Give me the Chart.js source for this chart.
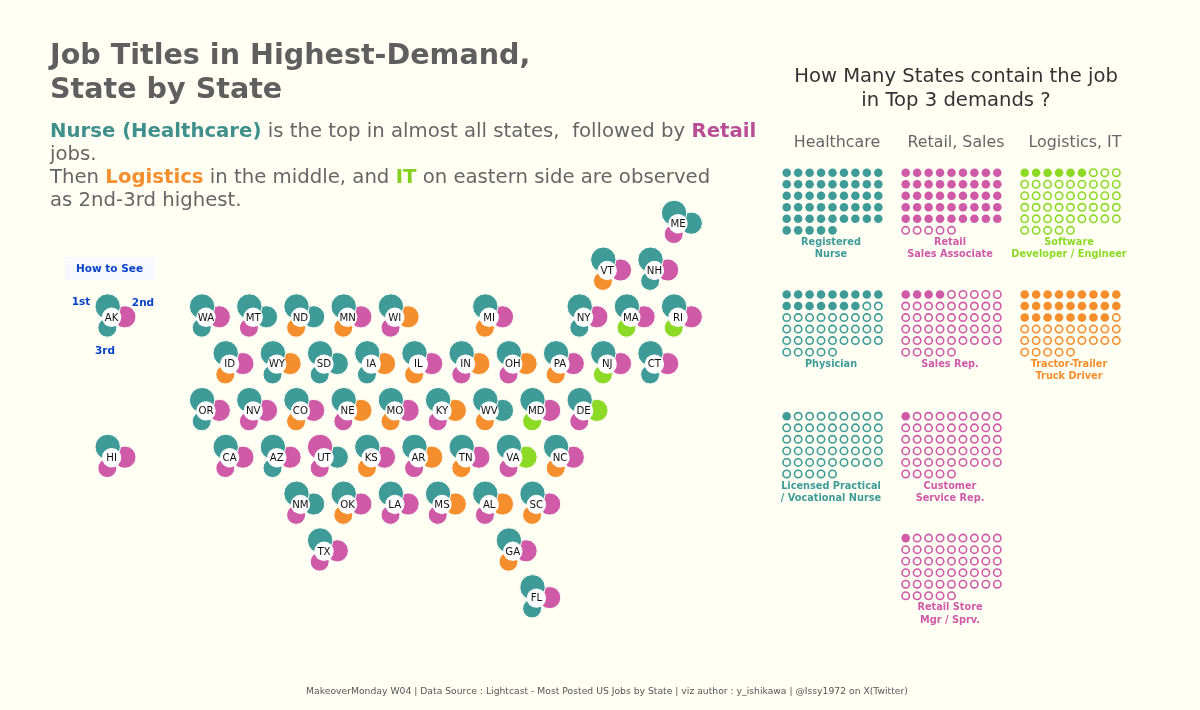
<!DOCTYPE html>
<html>
<head>
<meta charset="utf-8">
<title>Job Titles in Highest-Demand, State by State</title>
<script src="https://cdn.jsdelivr.net/npm/chart.js@4"></script>
<style>
  html, body { margin: 0; padding: 0; background: #fffff4; }
  #page { position: relative; width: 1200px; height: 710px; overflow: hidden; font-family: "DejaVu Sans", sans-serif; }
  canvas { position: absolute; left: 0; top: 0; }
  .t { position: absolute; white-space: pre; line-height: 1; }
  .c { transform: translate(-50%, -50%); text-align: center; }
  .l { transform: translateY(-50%); }
  .title { font-size: 28.6px; font-weight: bold; color: #5f5f5f; }
  .sub { font-size: 19.7px; color: #666; }
  .sub b.h { color: #3f8f8c; } .sub b.r { color: #b84f96; } .sub b.o { color: #f58e2c; } .sub b.g { color: #84d020; }
  .head { font-size: 19.6px; color: #333; }
  .col { font-size: 15.85px; color: #666; }
  .dot { font-size: 9.75px; font-weight: bold; }
  .blue { font-size: 10.5px; font-weight: bold; color: #0b43c9; }
  .foot { font-size: 9.24px; color: #555; }
  #howto { position: absolute; left: 65px; top: 257px; width: 90px; height: 23px; background: #f8f8ff; }
</style>
</head>
<body>
<div id="page">
  <div id="howto"></div>
  <canvas id="chart" width="1200" height="710"></canvas>
</div>
<script>
// tile grid map, half columns and rows, one flower per state
const states = ["ME","VT","NH","AK","WA","MT","ND","MN","WI","MI","NY","MA","RI",
  "ID","WY","SD","IA","IL","IN","OH","PA","NJ","CT",
  "OR","NV","CO","NE","MO","KY","WV","MD","DE",
  "HI","CA","AZ","UT","KS","AR","TN","VA","NC",
  "NM","OK","LA","MS","AL","SC","TX","GA","FL"];
const stateCol = [20,17,19,-4,0,2,4,6,8,12,16,18,20,
  1,3,5,7,9,11,13,15,17,19,
  0,2,4,6,8,10,12,14,16,
  -4,1,3,5,7,9,11,13,15,
  4,6,8,10,12,14,5,13,14];
const stateRow = [-2,-1,-1,0,0,0,0,0,0,0,0,0,0,
  1,1,1,1,1,1,1,1,1,1,
  2,2,2,2,2,2,2,2,2,
  3,3,3,3,3,3,3,3,3,
  4,4,4,4,4,4,5,5,6];
// job group per rank: H healthcare, R retail, L logistics, I IT
const first = ["H","H","H","H","H","H","H","H","H","H","H","H","H",
  "H","H","H","H","H","H","H","H","H","H",
  "H","H","H","H","H","H","H","H","H",
  "H","H","H","R","H","H","H","H","H",
  "H","H","H","H","H","H","H","H","H"];
const second = ["H","R","R","R","R","H","H","R","L","R","R","R","R",
  "R","L","H","L","R","L","L","R","R","R",
  "R","R","R","L","R","L","H","R","I",
  "R","R","R","H","R","L","R","I","R",
  "H","R","R","L","L","R","R","R","R"];
const third = ["R","L","H","H","H","R","L","L","R","L","H","I","I",
  "L","H","H","H","L","R","R","L","I","H",
  "H","R","L","R","L","R","L","I","R",
  "R","R","H","R","L","R","L","R","L",
  "R","L","R","R","R","L","R","L","H"];

const groupColor = { H: "#3f9b98", R: "#cf5aa8", L: "#f58e2c", I: "#8cd926" };

// unit charts, 50 states each
const jobNames = [["Registered","Nurse"],["Retail","Sales Associate"],["Software","Developer / Engineer"],
  ["Physician"],["Sales Rep."],["Tractor-Trailer","Truck Driver"],
  ["Licensed Practical","/ Vocational Nurse"],["Customer","Service Rep."],["Retail Store","Mgr / Sprv."]];
const jobGroup  = ["H","R","I","H","R","L","H","R","R"];
const jobStates = [50,45,6,16,4,26,1,1,1];
const jobPanelCol = [0,1,2,0,1,2,0,1,1];
const jobPanelRow = [0,0,0,1,1,1,2,2,3];
const rowLengths = [9,9,9,9,9,5];

const titleLines = ["Job Titles in Highest-Demand,","State by State"];
const columnHeads = ["Healthcare","Retail, Sales","Logistics, IT"];
const headLines = ["How Many States contain the job","in Top 3 demands ?"];
const footer = "MakeoverMonday W04 | Data Source : Lightcast - Most Posted US Jobs by State | viz author : y_ishikawa | @Issy1972 on X(Twitter)";

// layout in pixels
const W = 1200, H = 710;
const PAPER = "#fffff4";
const MAP = { x0: 206, dx: 23.6, y0: 317.3, dy: 46.8 };
const DOT = { x0: 786.7, dx: 11.45, y0: 172.7, dy: 11.53, panelX: 119, panelY: 121.8 };
const PETALS = [
  { dx: -3.9, dy: -10.8, r: 12.2 },
  { dx: 13.3, dy: -0.5, r: 10.6 },
  { dx: -4.3, dy: 10.4, r: 9 },
];
const HOLE_R = 9.7;
const PETAL_GAP = 1;

function addText(cls, txt, x, y, color) {
  const e = document.createElement("div");
  e.className = "t " + cls;
  e.textContent = txt;
  e.style.left = x + "px";
  e.style.top = y + "px";
  if (color) e.style.color = color;
  document.getElementById("page").appendChild(e);
  return e;
}
function addRich(parts, x, y) {
  const e = addText("l sub", "", x, y);
  parts.forEach(([t, c]) => {
    const n = document.createElement(c ? "b" : "span");
    if (c) n.className = c;
    n.textContent = t;
    e.appendChild(n);
  });
}

addText("l title", titleLines[0], 50, 54);
addText("l title", titleLines[1], 50, 87.5);
addRich([["Nurse (Healthcare)","h"],[" is the top in almost all states,  followed by "],["Retail","r"]], 50, 131);
addRich([["jobs."]], 50, 154);
addRich([["Then "],["Logistics","o"],[" in the middle, and "],["IT","g"],[" on eastern side are observed"]], 50, 177);
addRich([["as 2nd-3rd highest."]], 50, 200);
addText("c head", headLines[0], 956, 76);
addText("c head", headLines[1], 956, 100);
columnHeads.forEach((h, i) => addText("c col", h, 837 + i * DOT.panelX, 142));
addText("c blue", "How to See", 109.5, 268);
addText("c blue", "1st", 81, 300.5);
addText("c blue", "2nd", 143, 302);
addText("c blue", "3rd", 105, 350);
addText("c foot", footer, 607, 691);

jobNames.forEach((lines, i) => {
  lines.forEach((line, j) => {
    const x = 831 + jobPanelCol[i] * DOT.panelX;
    const y = 242 + jobPanelRow[i] * DOT.panelY + j * 12.3;
    addText("c dot", line, x, y, groupColor[jobGroup[i]]);
  });
});

// linear hidden axes that cover the whole canvas, one pair for the map, one for the dots
function axis(origin, step, size, reverse) {
  return { type: "linear", display: false, reverse: !!reverse, min: -origin / step, max: (size - origin) / step };
}

function petalSet(i, ranks) {
  const p = PETALS[i];
  return {
    xAxisID: "xMap", yAxisID: "yMap",
    data: states.map((s, k) => ({ x: stateCol[k] + p.dx / MAP.dx, y: stateRow[k] + p.dy / MAP.dy })),
    pointRadius: p.r + PETAL_GAP / 2,
    pointBorderWidth: PETAL_GAP,
    pointBorderColor: PAPER,
    pointBackgroundColor: ranks.map((g) => groupColor[g]),
  };
}

function waffleSets() {
  const sets = [];
  jobNames.forEach((name, i) => {
    const filled = [], empty = [];
    let n = 0;
    rowLengths.forEach((len, r) => {
      for (let c = 0; c < len; c++) {
        const pt = {
          x: c + jobPanelCol[i] * DOT.panelX / DOT.dx,
          y: r + jobPanelRow[i] * DOT.panelY / DOT.dy,
        };
        (n < jobStates[i] ? filled : empty).push(pt);
        n++;
      }
    });
    const color = groupColor[jobGroup[i]];
    sets.push({ xAxisID: "xDot", yAxisID: "yDot", data: filled, pointRadius: 4.3, pointBorderWidth: 0, pointBackgroundColor: color });
    sets.push({ xAxisID: "xDot", yAxisID: "yDot", data: empty, pointRadius: 3.7, pointBorderWidth: 1.6, pointBorderColor: color, pointBackgroundColor: "transparent" });
  });
  return sets;
}

const stateLabels = {
  id: "stateLabels",
  afterDatasetsDraw(c) {
    const ctx = c.ctx;
    ctx.save();
    ctx.font = '10.2px "DejaVu Sans"';
    ctx.fillStyle = "#111";
    ctx.textAlign = "center";
    ctx.textBaseline = "middle";
    states.forEach((s, k) => {
      ctx.fillText(s, c.scales.xMap.getPixelForValue(stateCol[k]), c.scales.yMap.getPixelForValue(stateRow[k]) + 0.6);
    });
    ctx.restore();
  },
};

new Chart(document.getElementById("chart").getContext("2d"), {
  type: "scatter",
  data: {
    datasets: [
      // first dataset is painted last, so the white hole sits on the petals
      {
        xAxisID: "xMap", yAxisID: "yMap",
        data: states.map((s, k) => ({ x: stateCol[k], y: stateRow[k] })),
        pointRadius: HOLE_R, pointBorderWidth: 0, pointBackgroundColor: "#ffffff",
      },
      petalSet(0, first),
      petalSet(1, second),
      petalSet(2, third),
      ...waffleSets(),
    ],
  },
  options: {
    responsive: false,
    animation: false,
    devicePixelRatio: 1,
    layout: { padding: 0, autoPadding: false },
    plugins: { legend: { display: false }, tooltip: { enabled: false } },
    scales: {
      xMap: axis(MAP.x0, MAP.dx, W),
      yMap: axis(MAP.y0, MAP.dy, H, true),
      xDot: axis(DOT.x0, DOT.dx, W),
      yDot: axis(DOT.y0, DOT.dy, H, true),
    },
  },
  plugins: [stateLabels],
});
</script>
</body>
</html>
